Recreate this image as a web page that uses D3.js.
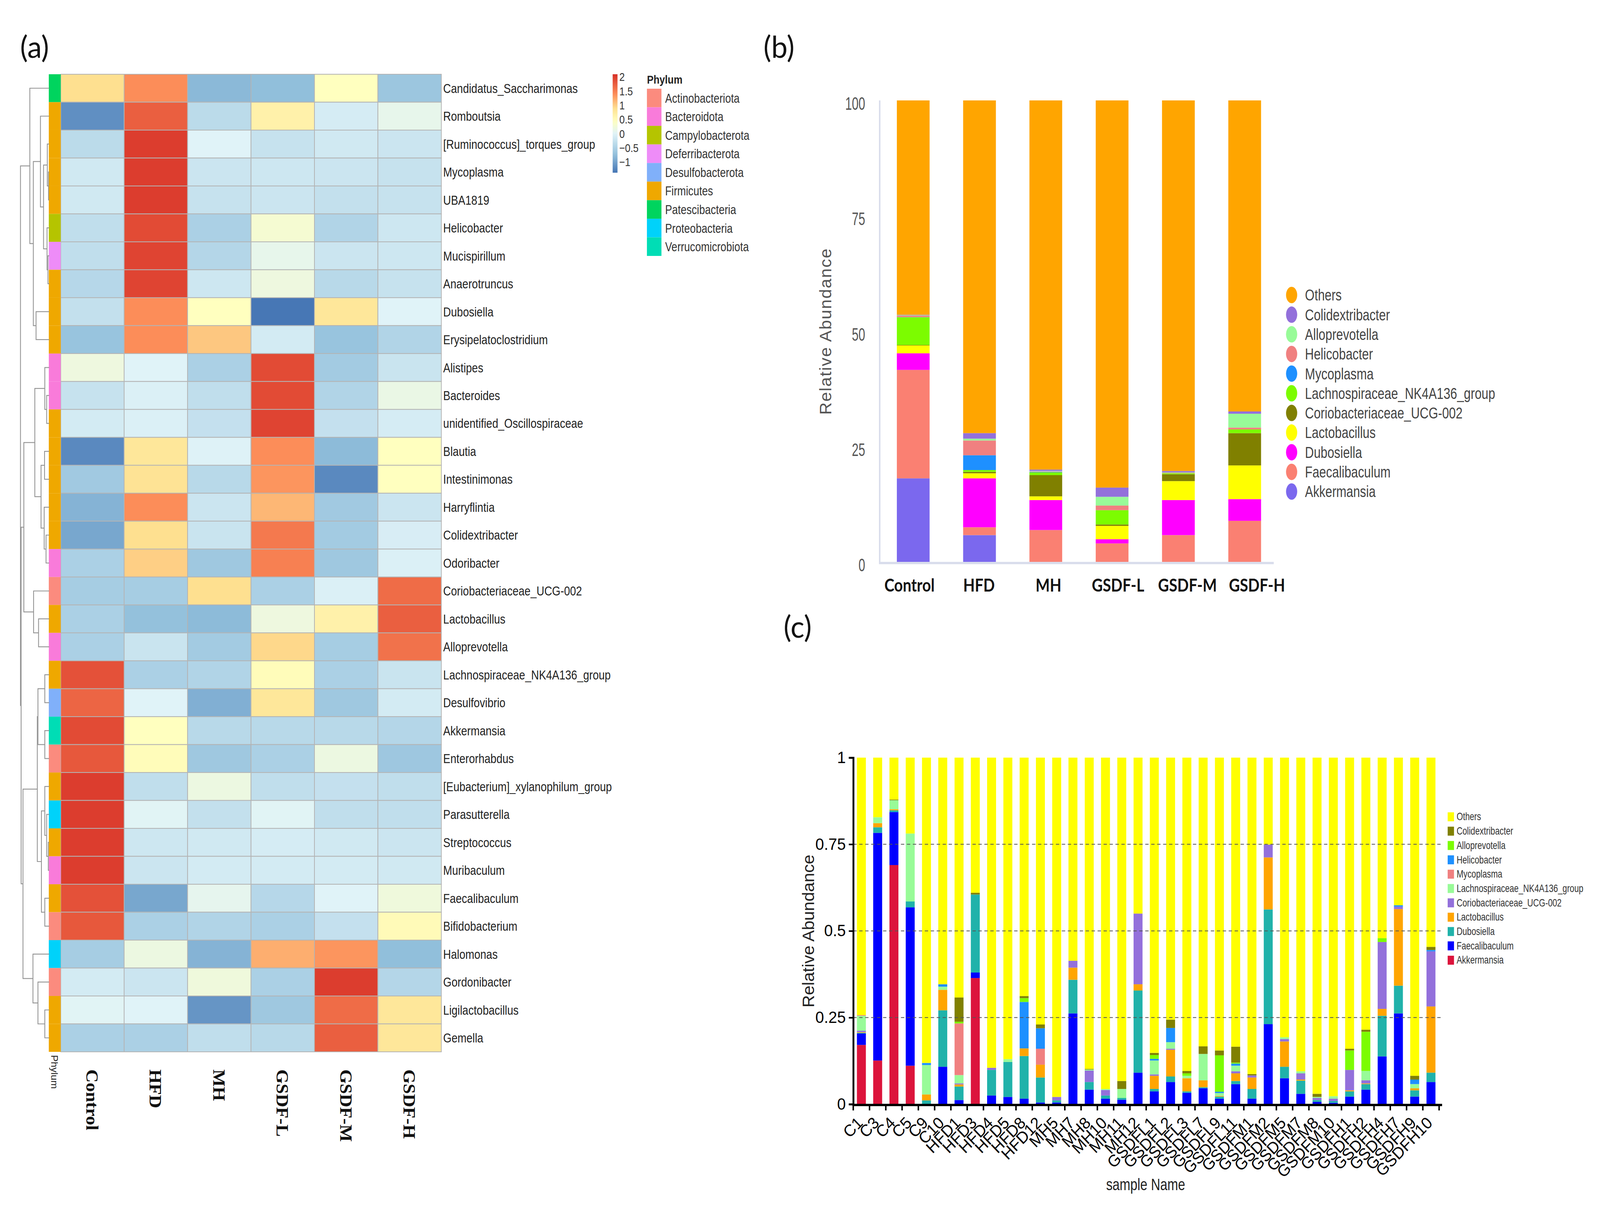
<!DOCTYPE html>
<html>
<head>
  <meta charset="utf-8">
  <title>Gut microbiota composition</title>
  <script src="https://d3js.org/d3.v7.min.js"></script>
  <style>
    html, body { margin: 0; padding: 0; background: #FFFFFF; overflow: hidden; }
    svg#fig { display: block; width: 100vw; height: 100vh; }
    .sans { font-family: "Liberation Sans", Arial, sans-serif; }
  </style>
</head>
<body>
<svg id="fig" viewBox="0 0 4296 3084" preserveAspectRatio="none"></svg>
<script>
// ---------- (a) heatmap data ----------
const groups = ["Control", "HFD", "MH", "GSDF-L", "GSDF-M", "GSDF-H"];

const genera = ["Candidatus_Saccharimonas", "Romboutsia", "[Ruminococcus]_torques_group", "Mycoplasma",
  "UBA1819", "Helicobacter", "Mucispirillum", "Anaerotruncus", "Dubosiella", "Erysipelatoclostridium",
  "Alistipes", "Bacteroides", "unidentified_Oscillospiraceae", "Blautia", "Intestinimonas", "Harryflintia",
  "Colidextribacter", "Odoribacter", "Coriobacteriaceae_UCG-002", "Lactobacillus", "Alloprevotella",
  "Lachnospiraceae_NK4A136_group", "Desulfovibrio", "Akkermansia", "Enterorhabdus",
  "[Eubacterium]_xylanophilum_group", "Parasutterella", "Streptococcus", "Muribaculum", "Faecalibaculum",
  "Bifidobacterium", "Halomonas", "Gordonibacter", "Ligilactobacillus", "Gemella"];

const phyla = ["Actinobacteriota", "Bacteroidota", "Campylobacterota", "Deferribacterota", "Desulfobacterota",
  "Firmicutes", "Patescibacteria", "Proteobacteria", "Verrucomicrobiota"];
const phylumColors = ["#FB8B7E", "#F97BDA", "#B5C400", "#EE8CF8", "#80B0FA", "#EFA800", "#00D45E", "#00D2FA", "#00DDB5"];

const generaPhylum = ["Patescibacteria", "Firmicutes", "Firmicutes", "Firmicutes", "Firmicutes",
  "Campylobacterota", "Deferribacterota", "Firmicutes", "Firmicutes", "Firmicutes",
  "Bacteroidota", "Bacteroidota", "Firmicutes", "Firmicutes", "Firmicutes", "Firmicutes",
  "Firmicutes", "Bacteroidota", "Actinobacteriota", "Firmicutes", "Bacteroidota",
  "Firmicutes", "Desulfobacterota", "Verrucomicrobiota", "Actinobacteriota",
  "Firmicutes", "Proteobacteria", "Firmicutes", "Bacteroidota", "Firmicutes",
  "Actinobacteriota", "Proteobacteria", "Actinobacteriota", "Firmicutes", "Firmicutes"];

// z-scores, one row per genus, columns follow `groups`
const zscores = [
  [0.9, 1.4, -0.8, -0.75, 0.45, -0.65],
  [-1.15, 1.75, -0.35, 0.65, -0.1, 0.1],
  [-0.35, 2.0, 0.0, -0.25, -0.15, -0.2],
  [-0.15, 2.0, -0.2, -0.18, -0.2, -0.25],
  [-0.15, 2.0, -0.25, -0.2, -0.28, -0.25],
  [-0.3, 1.9, -0.5, 0.3, -0.45, -0.18],
  [-0.3, 1.95, -0.42, 0.1, -0.2, -0.18],
  [-0.4, 1.95, -0.18, 0.2, -0.38, -0.25],
  [-0.28, 1.4, 0.45, -1.35, 0.8, 0.0],
  [-0.68, 1.4, 1.05, -0.12, -0.68, -0.45],
  [0.2, 0.0, -0.5, 1.9, -0.58, -0.22],
  [-0.25, -0.05, -0.3, 1.9, -0.45, 0.15],
  [-0.12, -0.05, -0.27, 1.95, -0.27, -0.1],
  [-1.2, 0.8, -0.02, 1.4, -0.78, 0.45],
  [-0.6, 0.85, -0.38, 1.35, -1.2, 0.45],
  [-0.85, 1.4, -0.2, 1.15, -0.6, -0.2],
  [-0.95, 0.9, -0.22, 1.55, -0.58, -0.08],
  [-0.5, 1.0, -0.62, 1.5, -0.62, -0.05],
  [-0.55, -0.55, 0.9, -0.5, -0.05, 1.65],
  [-0.5, -0.72, -0.78, 0.2, 0.65, 1.75],
  [-0.5, -0.22, -0.58, 0.95, -0.55, 1.6],
  [1.85, -0.5, -0.45, 0.5, -0.5, -0.22],
  [1.7, 0.0, -0.88, 0.8, -0.62, -0.12],
  [1.9, 0.45, -0.38, -0.38, -0.38, -0.42],
  [1.8, 0.5, -0.62, -0.5, 0.18, -0.63],
  [2.0, -0.3, 0.18, -0.3, -0.27, -0.3],
  [2.0, 0.02, -0.28, 0.02, -0.3, -0.3],
  [2.0, -0.18, -0.15, -0.1, -0.15, -0.2],
  [2.0, -0.2, -0.12, -0.12, -0.12, -0.15],
  [1.85, -0.95, 0.08, -0.4, 0.0, 0.22],
  [1.8, -0.5, -0.45, -0.5, -0.27, 0.52],
  [-0.55, 0.18, -0.85, 1.2, 1.35, -0.75],
  [-0.12, -0.2, 0.22, -0.5, 2.0, -0.42],
  [0.02, 0.0, -1.1, -0.62, 1.65, 0.8],
  [-0.5, -0.5, -0.3, -0.38, 1.75, 0.8]
];

// row dendrogram: N(height, left, right), leaves are row indices
const N = (h, a, b) => ({ h: h, children: [a, b] });
const rowTree = N(1.00,
  N(0.674, 0,
    N(0.552,
      N(0.304, 1,
        N(0.196,
          N(0.065, 2, N(0.022, 3, 4)),
          N(0.074, 5, N(0.043, 6, 7)))),
      N(0.457, 8, 9))),
  N(0.978,
    N(0.883,
      N(0.500,
        N(0.152, 10, N(0.087, 11, 12)),
        N(0.283, N(0.161, 13, 14), N(0.174, 15, N(0.109, 16, 17)))),
      N(0.543, 18, N(0.370, 19, 20))),
    N(0.913,
      N(0.413,
        N(0.391, N(0.152, 21, 22), N(0.152, 23, 24)),
        N(0.270, N(0.152, 25, N(0.087, 26, N(0.030, 27, 28))), N(0.152, 29, 30))),
      N(0.565, 31, N(0.391, 32, N(0.152, 33, 34))))));

const legendTicks = [2, 1.5, 1, 0.5, 0, -0.5, -1];

// ---------- (b) group means (%) ----------
const taxaB = ["Akkermansia", "Faecalibaculum", "Dubosiella", "Lactobacillus", "Coriobacteriaceae_UCG-002",
  "Lachnospiraceae_NK4A136_group", "Mycoplasma", "Helicobacter", "Alloprevotella", "Colidextribacter", "Others"];
const colorsB = ["#7B68EE", "#FA8072", "#FF00FF", "#FFFF00", "#808000", "#7CFC00", "#1E90FF", "#F08080", "#98FB98", "#9370DB", "#FFA500"];
const bAkkermansia      = [18.1, 5.8, 0, 0, 0, 0];
const bFaecalibaculum   = [23.5, 1.7, 6.9, 4.0, 5.8, 8.9];
const bDubosiella       = [3.6, 10.6, 6.5, 0.9, 7.6, 4.7];
const bLactobacillus    = [1.7, 1.1, 0.8, 2.9, 4.1, 7.3];
const bCoriobacteriaceae = [0.1, 0.3, 4.6, 0.3, 1.5, 7.0];
const bLachnospiraceae  = [6.0, 0.4, 0.6, 3.1, 0.2, 0.8];
const bMycoplasma       = [0.05, 3.2, 0.1, 0, 0, 0];
const bHelicobacter     = [0.3, 3.2, 0.1, 1.0, 0.1, 0.4];
const bAlloprevotella   = [0.1, 0.4, 0.1, 1.9, 0.1, 3.0];
const bColidextribacter = [0.1, 1.2, 0.3, 2.0, 0.3, 0.5];

// ---------- (c) per-sample relative abundance ----------
const samples = ["C1", "C3", "C4", "C5", "C9", "C10", "HFD1", "HFD3", "HFD4", "HFD5", "HFD8", "HFD12",
  "MH5", "MH7", "MH8", "MH10", "MH11", "MH12", "GSDFL1", "GSDFL2", "GSDFL3", "GSDFL7", "GSDFL9", "GSDFL11",
  "GSDFM1", "GSDFM2", "GSDFM5", "GSDFM7", "GSDFM8", "GSDFM10", "GSDFH1", "GSDFH2", "GSDFH4", "GSDFH7", "GSDFH9", "GSDFH10"];
const taxaC = ["Akkermansia", "Faecalibaculum", "Dubosiella", "Lactobacillus", "Coriobacteriaceae_UCG-002",
  "Lachnospiraceae_NK4A136_group", "Mycoplasma", "Helicobacter", "Alloprevotella", "Colidextribacter", "Others"];
const colorsC = ["#DC143C", "#0000FF", "#20B2AA", "#FFA500", "#9370DB", "#98FB98", "#F08080", "#1E90FF", "#7CFC00", "#808000", "#FFFF00"];
const cAkkermansia = [.171, .126, .690, .111, 0, 0, 0, .364, 0, 0, 0, 0, 0, 0, 0, 0, 0, 0,
  0, 0, 0, 0, 0, 0, 0, 0, 0, 0, 0, 0, 0, 0, 0, 0, 0, 0];
const cFaecalibaculum = [.033, .657, .153, .457, 0, .108, .012, .016, .025, .021, .016, .005, .005, .262, .042, .016, .013, .091,
  .037, .064, .033, .046, .016, .058, .016, .231, .075, .030, .007, .004, .022, .042, .138, .262, .022, .064];
const cDubosiella = [.002, .016, .005, .017, .011, .163, .039, .225, .074, .101, .123, .072, .006, .097, .022, .009, .005, .237,
  .007, .016, .004, .003, .006, .009, .028, .331, .033, .038, .005, .005, .015, .016, .117, .080, .018, .027];
const cLactobacillus = [.002, .012, .003, 0, .017, .059, .006, 0, 0, 0, .022, .037, 0, .035, 0, 0, 0, .018,
  .038, .077, .038, .020, .002, .022, .033, .150, .073, .003, 0, 0, .003, .002, .020, .221, .006, .191];
const cCoriobacteriaceae = [.004, 0, 0, 0, 0, 0, .003, 0, .006, 0, 0, 0, .010, .020, .033, .016, 0, .204,
  .004, .003, 0, 0, 0, .006, .006, .037, .007, .018, .006, .007, .059, .009, .193, .007, 0, .159];
const cLachnospiraceae = [.043, .017, .026, .196, .085, .009, .024, 0, 0, .008, 0, 0, 0, 0, .003, .003, .026, 0,
  .040, .019, .007, .076, .008, .016, 0, 0, .005, .006, .003, .007, 0, .027, 0, 0, .012, 0];
const cMycoplasma = [.002, 0, 0, 0, 0, 0, .149, 0, 0, 0, 0, .046, 0, 0, 0, 0, 0, 0,
  0, 0, 0, 0, 0, 0, 0, 0, 0, 0, 0, 0, 0, 0, 0, 0, 0, 0];
const cHelicobacter = [0, 0, 0, 0, .006, .007, 0, 0, 0, 0, .134, .059, 0, 0, 0, 0, 0, 0,
  .005, .041, 0, 0, .004, .006, 0, 0, 0, 0, 0, 0, 0, 0, 0, .004, .013, .004];
const cAlloprevotella = [0, 0, 0, 0, 0, 0, .005, 0, 0, 0, .011, 0, 0, 0, 0, 0, 0, 0,
  .011, 0, .007, 0, .105, .003, 0, 0, 0, 0, 0, 0, .056, .113, .011, 0, 0, 0];
const cColidextribacter = [0, 0, .002, 0, 0, 0, .070, .005, 0, 0, .006, .011, 0, 0, .002, 0, .023, 0,
  .006, .024, .007, .022, .014, .046, .004, 0, 0, 0, .009, 0, .005, .006, 0, 0, .011, .009];

// ---------- drawing ----------
// the svg stretches over the whole window (the viewport can be narrower than 4296)
const svg = d3.select("svg#fig");
const ink = "#222";
// the original figure is squeezed sideways, so most sans text is narrowed with scale(k,1)
const at = (x, y, k) => "translate(" + x + "," + y + ") scale(" + k + ",1)";

// panel letters
[["(a)", 54, 148], ["(b)", 2050, 148], ["(c)", 2104, 1632]].forEach(p => {
  svg.append("text").attr("x", p[1]).attr("y", p[2])
    .style("font-family", "Lato, 'Open Sans', sans-serif").style("font-size", "78px").attr("fill", "#111")
    .text(p[0]);
});

// ===== (a) =====
const heat = svg.append("g").attr("id", "heatmap");
const xCol = d3.scaleBand().domain(groups).range([163, 1185]);
const yRow = d3.scaleBand().domain(genera).range([190, 2692]);
const zColor = d3.scaleLinear()
  .domain([-1.37, -0.75, 0.0, 0.45, 0.9, 1.4, 2.1])
  .range(["#4575B4", "#91BFDB", "#E0F3F8", "#FFFFBF", "#FEE090", "#FC8D59", "#D73027"])
  .clamp(true);
const phylumScale = d3.scaleOrdinal().domain(phyla).range(phylumColors);

const cells = [];
zscores.forEach((row, i) => row.forEach((v, j) => cells.push({ genus: genera[i], group: groups[j], v: v })));

heat.selectAll("rect.cell").data(cells).join("rect")
  .attr("class", "cell")
  .attr("x", d => xCol(d.group)).attr("y", d => yRow(d.genus))
  .attr("width", xCol.bandwidth()).attr("height", yRow.bandwidth())
  .attr("fill", d => zColor(d.v))
  .attr("stroke", "#B4B4B4").attr("stroke-width", 2);

heat.selectAll("rect.phylum").data(genera).join("rect")
  .attr("class", "phylum")
  .attr("x", 131).attr("y", d => yRow(d))
  .attr("width", 32).attr("height", yRow.bandwidth())
  .attr("fill", (d, i) => phylumScale(generaPhylum[i]));

heat.selectAll("text.rowlab").data(genera).join("text")
  .attr("class", "rowlab sans")
  .attr("transform", d => at(1190, yRow(d) + yRow.bandwidth() / 2, 0.85))
  .attr("dy", "0.35em").style("font-size", "34px").attr("fill", ink)
  .text(d => d);

heat.selectAll("text.collab").data(groups).join("text")
  .attr("class", "collab")
  .attr("transform", d => "translate(" + (xCol(d) + xCol.bandwidth() / 2) + ",2737) rotate(90)")
  .attr("dy", "0.35em")
  .style("font-family", "'Liberation Serif', 'Times New Roman', serif").style("font-weight", "bold")
  .style("font-size", "47px").attr("fill", "#111")
  .text(d => d);

heat.append("text").attr("class", "sans")
  .attr("transform", "translate(147,2700) rotate(90)").attr("dy", "0.35em")
  .style("font-size", "26px").attr("fill", ink).text("Phylum");

// dendrogram
const dX = d3.scaleLinear().domain([0, 1]).range([132, 55]);
const dendro = heat.append("g").attr("fill", "none").attr("stroke", "#929292").attr("stroke-width", 2.2);
function place(node) {
  if (typeof node === "number") {
    return { x: dX(0), y: yRow(genera[node]) + yRow.bandwidth() / 2 };
  }
  const a = place(node.children[0]);
  const b = place(node.children[1]);
  const x = dX(node.h);
  dendro.append("path")
    .attr("d", "M" + a.x + "," + a.y + "H" + x + "V" + b.y + "H" + b.x);
  return { x: x, y: (a.y + b.y) / 2 };
}
place(rowTree);

// colour key
const keyY = d3.scaleLinear().domain([-1.37, 2.1]).range([442, 190]);
const defs = svg.append("defs");
const grad = defs.append("linearGradient").attr("id", "zgrad")
  .attr("x1", "0").attr("y1", "1").attr("x2", "0").attr("y2", "0");
d3.range(0, 1.0001, 0.05).forEach(t => {
  grad.append("stop").attr("offset", t).attr("stop-color", zColor(-1.37 + t * 3.47));
});
heat.append("rect").attr("x", 1645).attr("y", 190).attr("width", 13).attr("height", 252)
  .attr("fill", "url(#zgrad)");
heat.selectAll("text.keylab").data(legendTicks).join("text")
  .attr("class", "keylab sans")
  .attr("transform", d => at(1663, keyY(d), 0.9)).attr("dy", "0.35em")
  .style("font-size", "29px").attr("fill", "#333")
  .text(d => d < 0 ? "\u2212" + Math.abs(d) : String(d));

// phylum key
heat.append("text").attr("class", "sans").attr("transform", at(1737, 214, 0.88))
  .style("font-size", "30px").style("font-weight", "bold").attr("fill", ink).text("Phylum");
const pKey = d3.scaleBand().domain(phyla).range([227, 655]);
heat.selectAll("rect.pkey").data(phyla).join("rect")
  .attr("class", "pkey")
  .attr("x", 1737).attr("y", d => pKey(d)).attr("width", 39).attr("height", pKey.bandwidth())
  .attr("fill", d => phylumScale(d));
heat.selectAll("text.pkeylab").data(phyla).join("text")
  .attr("class", "pkeylab sans")
  .attr("transform", d => at(1786, pKey(d) + pKey.bandwidth() / 2, 0.82)).attr("dy", "0.35em")
  .style("font-size", "34px").attr("fill", "#333").text(d => d);

// ===== (b) =====
const panelB = svg.append("g").attr("id", "groupbars");
const seriesB = [bAkkermansia, bFaecalibaculum, bDubosiella, bLactobacillus, bCoriobacteriaceae,
  bLachnospiraceae, bMycoplasma, bHelicobacter, bAlloprevotella, bColidextribacter];
const rowsB = groups.map((g, j) => {
  const r = { group: g };
  let sum = 0;
  seriesB.forEach((s, k) => { r[taxaB[k]] = s[j]; sum += s[j]; });
  r["Others"] = 100 - sum;
  return r;
});
const stackB = d3.stack().keys(taxaB)(rowsB);
const xB = d3.scaleBand().domain(groups).range([2363, 3431]).paddingInner(0.506).paddingOuter(0.253);
const yB = d3.scaleLinear().domain([0, 100]).range([1438, 257]);
const colorB = d3.scaleOrdinal().domain(taxaB).range(colorsB);

panelB.selectAll("g.layer").data(stackB).join("g")
  .attr("class", "layer").attr("fill", d => colorB(d.key))
  .selectAll("rect").data(d => d).join("rect")
  .attr("x", d => xB(d.data.group)).attr("width", xB.bandwidth())
  .attr("y", d => yB(d[1])).attr("height", d => Math.max(0, yB(d[0]) - yB(d[1])));

panelB.append("line").attr("x1", 2362).attr("x2", 2362).attr("y1", 257).attr("y2", 1441)
  .attr("stroke", "#D9DDEC").attr("stroke-width", 4);
panelB.append("line").attr("x1", 2360).attr("x2", 3420).attr("y1", 1441).attr("y2", 1441)
  .attr("stroke", "#D9DDEC").attr("stroke-width", 6);

panelB.selectAll("text.ytick").data([0, 25, 50, 75, 100]).join("text")
  .attr("class", "ytick sans")
  .attr("transform", d => at(2323, yB(d) + 8, 0.7)).attr("dy", "0.35em").attr("text-anchor", "end")
  .style("font-size", "46px").attr("fill", "#555").text(d => d);

// category labels drift slightly right of the bar centres in the original
panelB.selectAll("text.xlab").data(groups).join("text")
  .attr("class", "xlab")
  .attr("transform", (d, i) => at(xB(d) + xB.bandwidth() / 2 - 10 + i * 8.6, 1514, 0.9))
  .attr("text-anchor", "middle")
  .style("font-family", "Lato, 'Open Sans', sans-serif").style("font-weight", "bold")
  .style("font-size", "45px").attr("fill", "#111").text(d => d);

panelB.append("text").attr("class", "sans")
  .attr("transform", "translate(2217,848) rotate(-90)").attr("text-anchor", "middle").attr("dy", "0.35em")
  .style("font-size", "44px").style("letter-spacing", "2px").attr("fill", "#555")
  .text("Relative Abundance");

const legB = taxaB.slice().reverse();
panelB.selectAll("ellipse.leg").data(legB).join("ellipse")
  .attr("class", "leg")
  .attr("cx", 3468).attr("cy", (d, i) => 755 + i * 50.3).attr("rx", 15).attr("ry", 21)
  .attr("fill", d => colorB(d));
panelB.selectAll("text.leg").data(legB).join("text")
  .attr("class", "leg sans")
  .attr("transform", (d, i) => at(3504, 755 + i * 50.3, 0.8)).attr("dy", "0.35em")
  .style("font-size", "41px").attr("fill", "#444").text(d => d);

// ===== (c) =====
const panelC = svg.append("g").attr("id", "samplebars");
const seriesC = [cAkkermansia, cFaecalibaculum, cDubosiella, cLactobacillus, cCoriobacteriaceae,
  cLachnospiraceae, cMycoplasma, cHelicobacter, cAlloprevotella, cColidextribacter];
const rowsC = samples.map((s, j) => {
  const r = { sample: s };
  let sum = 0;
  seriesC.forEach((arr, k) => { r[taxaC[k]] = arr[j]; sum += arr[j]; });
  r["Others"] = 1 - sum;
  return r;
});
const stackC = d3.stack().keys(taxaC)(rowsC);
const xC = d3.scaleBand().domain(samples).range([2291, 3864]).paddingInner(0.45).paddingOuter(0.225);
const yC = d3.scaleLinear().domain([0, 1]).range([2826, 1939]);
const colorC = d3.scaleOrdinal().domain(taxaC).range(colorsC);

panelC.selectAll("g.layer").data(stackC).join("g")
  .attr("class", "layer").attr("fill", d => colorC(d.key))
  .selectAll("rect").data(d => d).join("rect")
  .attr("x", d => xC(d.data.sample)).attr("width", xC.bandwidth())
  .attr("y", d => yC(d[1])).attr("height", d => Math.max(0, yC(d[0]) - yC(d[1])));

panelC.selectAll("line.grid").data([0.25, 0.5, 0.75]).join("line")
  .attr("class", "grid")
  .attr("x1", 2291).attr("x2", 3870).attr("y1", d => yC(d)).attr("y2", d => yC(d))
  .attr("stroke", "#555").attr("stroke-width", 2).attr("stroke-dasharray", "9,7");

const yAxisC = d3.axisLeft(yC).tickValues([0, 0.25, 0.5, 0.75, 1])
  .tickFormat(d => String(d)).tickSize(12).tickPadding(8);
const gy = panelC.append("g").attr("transform", "translate(2291,0)").call(yAxisC);
gy.select(".domain").attr("stroke", "#000").attr("stroke-width", 5);
gy.selectAll(".tick line").attr("stroke", "#000").attr("stroke-width", 4);
gy.selectAll(".tick text").style("font-size", "42px").attr("fill", "#000")
  .style("font-family", "'Liberation Sans', Arial, sans-serif");

// x axis: ticks at band boundaries, labels at band centres
panelC.append("line").attr("x1", 2289).attr("x2", 3872).attr("y1", 2828).attr("y2", 2828)
  .attr("stroke", "#000").attr("stroke-width", 6);
panelC.selectAll("line.xtick").data(d3.range(samples.length + 1)).join("line")
  .attr("class", "xtick")
  .attr("x1", i => 2291 + i * xC.step()).attr("x2", i => 2291 + i * xC.step())
  .attr("y1", 2828).attr("y2", 2842).attr("stroke", "#000").attr("stroke-width", 4);
panelC.selectAll("text.xlab").data(samples).join("text")
  .attr("class", "xlab sans")
  .attr("transform", d => "translate(" + (xC(d) + xC.bandwidth() / 2 - 4) + ",2866) rotate(-45)")
  .attr("text-anchor", "end").attr("dy", "0.35em")
  .style("font-size", "42px").attr("fill", "#000").text(d => d);

panelC.append("text").attr("class", "sans")
  .attr("transform", "translate(2170,2383) rotate(-90)").attr("text-anchor", "middle").attr("dy", "0.35em")
  .style("font-size", "44px").attr("fill", ink).text("Relative Abundance");
panelC.append("text").attr("class", "sans")
  .attr("transform", at(3076, 3046, 0.8)).attr("text-anchor", "middle")
  .style("font-size", "43px").attr("fill", ink).text("sample Name");

const legC = taxaC.slice().reverse();
panelC.selectAll("rect.leg").data(legC).join("rect")
  .attr("class", "leg")
  .attr("x", 3887).attr("y", (d, i) => 2079 + i * 36.7).attr("width", 17).attr("height", 23)
  .attr("fill", d => colorC(d));
panelC.selectAll("text.leg").data(legC).join("text")
  .attr("class", "leg sans")
  .attr("transform", (d, i) => at(3911, 2090 + i * 36.7, 0.81)).attr("dy", "0.35em")
  .style("font-size", "27px").attr("fill", "#333").text(d => d);
</script>
</body>
</html>
